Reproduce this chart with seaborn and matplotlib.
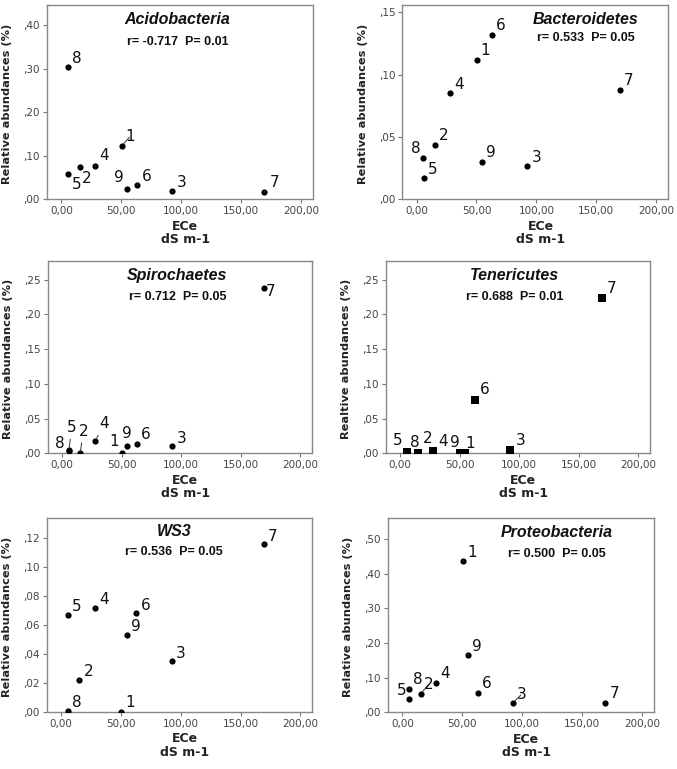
import matplotlib
matplotlib.use('Agg')
import matplotlib.pyplot as plt
from matplotlib.ticker import FuncFormatter, MultipleLocator
import seaborn as sns
import pandas as pd

# sample ids and ECe (dS m-1), shared by all panels
samples = ['1', '2', '3', '4', '5', '6', '7', '8', '9']
ece = [50.5, 15.3, 92.5, 28.0, 5.8, 63.0, 169.5, 5.6, 54.7]

# relative abundances (%) per phylum, in sample order 1..9
acidobacteria = [0.123, 0.075, 0.018, 0.077, 0.059, 0.034, 0.017, 0.303, 0.024]
bacteroidetes = [0.112, 0.044, 0.027, 0.085, 0.017, 0.132, 0.088, 0.033, 0.030]
spirochaetes = [0.001, 0.000, 0.010, 0.018, 0.005, 0.013, 0.238, 0.004, 0.010]
tenericutes = [0.001, 0.001, 0.005, 0.004, 0.002, 0.077, 0.223, 0.002, 0.001]
ws3 = [0.000, 0.022, 0.035, 0.072, 0.067, 0.068, 0.116, 0.0005, 0.053]
proteobacteria = [0.437, 0.054, 0.028, 0.085, 0.038, 0.057, 0.028, 0.068, 0.166]

names = ['Acidobacteria', 'Bacteroidetes', 'Spirochaetes', 'Tenericutes', 'WS3', 'Proteobacteria']
stats_txt = ['r= -0.717  P= 0.01', 'r= 0.533  P= 0.05', 'r= 0.712  P= 0.05',
             'r= 0.688  P= 0.01', 'r= 0.536  P= 0.05', 'r= 0.500  P= 0.05']
values = [acidobacteria, bacteroidetes, spirochaetes, tenericutes, ws3, proteobacteria]
ylabels = ['Relative abundances (%)'] * 3 + ['Realtive abundances (%)'] + ['Relative abundances (%)'] * 2
yticks_step = [0.10, 0.05, 0.05, 0.05, 0.02, 0.10]
ylims = [0.446, 0.156, 0.277, 0.277, 0.134, 0.56]

# layout: axes boxes (left, bottom, width, height) in figure fraction
boxes = [
    (0.0694, 0.7408, 0.3929, 0.2527),
    (0.5942, 0.7408, 0.3925, 0.2527),
    (0.0704, 0.4105, 0.3909, 0.2501),
    (0.5697, 0.4105, 0.3909, 0.2501),
    (0.0690, 0.0745, 0.3923, 0.2519),
    (0.5731, 0.0737, 0.3929, 0.2527),
]
title_pos = [(0.49, 0.923, 0.81), (0.69, 0.926, 0.828), (0.49, 0.927, 0.814),
             (0.487, 0.927, 0.814), (0.48, 0.929, 0.823), (0.635, 0.924, 0.815)]

# label offsets in pixels (dx, dy down positive, leader line)
offsets = [
    {'1': (8, -9, 1), '2': (7, 12, 0), '3': (9, -9, 1), '4': (9, -10, 1), '5': (8, 11, 0),
     '6': (10, -8, 1), '7': (10, -9, 1), '8': (9, -9, 1), '9': (-8, -11, 0)},
    {'1': (8, -9, 0), '2': (9, -9, 0), '3': (9, -8, 0), '4': (9, -9, 0), '5': (9, -9, 0),
     '6': (9, -9, 0), '7': (9, -9, 0), '8': (-8, -10, 0), '9': (9, -9, 0)},
    {'1': (-8, -11, 0), '2': (3, -22, 1), '3': (9, -8, 1), '4': (9, -17, 1), '5': (3, -22, 1),
     '6': (9, -10, 1), '7': (7, 3, 0), '8': (-9, -7, 0), '9': (0, -13, 0)},
    {'1': (10, -9, 0), '2': (9, -14, 0), '3': (10, -9, 0), '4': (10, -9, 0), '5': (-9, -11, 0),
     '6': (10, -10, 0), '7': (10, -10, 0), '8': (8, -9, 0), '9': (-10, -10, 0)},
    {'1': (9, -9, 1), '2': (9, -8, 1), '3': (9, -8, 1), '4': (9, -8, 1), '5': (9, -8, 1),
     '6': (9, -8, 1), '7': (9, -8, 1), '8': (9, -8, 1), '9': (9, -9, 1)},
    {'1': (9, -8, 1), '2': (8, -9, 1), '3': (8, -8, 1), '4': (9, -9, 1), '5': (-8, -9, 0),
     '6': (9, -9, 1), '7': (9, -9, 1), '8': (9, -9, 1), '9': (9, -8, 1)},
]

sns.set_style('white')
plt.rcParams['font.family'] = ['DejaVu Sans']

fig = plt.figure(figsize=(6.77, 7.69), dpi=100)

xfmt = FuncFormatter(lambda v, p: ('%.2f' % v).replace('.', ','))


def yformat(v, p):
    s = ('%.2f' % v).replace('.', ',')
    return s[1:] if s.startswith('0') else s


px = 72.0 / 100  # pixels to points

for i in range(6):
    ax = fig.add_axes(boxes[i])
    df = pd.DataFrame({'ECe': ece, 'val': values[i], 'sample': samples})
    marker = 's' if i == 3 else 'o'
    size = 36 if i == 3 else 20
    sns.scatterplot(data=df, x='ECe', y='val', ax=ax, color='black', marker=marker,
                    s=size, edgecolor='black', linewidth=0, zorder=3)

    for _, row in df.iterrows():
        dx, dy, lead = offsets[i][row['sample']]
        kw = {}
        if lead:
            kw['arrowprops'] = dict(arrowstyle='-', color='#333333', lw=0.7,
                                    shrinkA=0.5, shrinkB=2)
        ax.annotate(row['sample'], (row['ECe'], row['val']),
                    xytext=(dx * px, -dy * px), textcoords='offset points',
                    ha='center', va='center', fontsize=11, color='#111111', **kw)

    ax.set_xlim(-12, 210)
    ax.set_ylim(0, ylims[i])
    ax.xaxis.set_major_locator(MultipleLocator(50))
    ax.yaxis.set_major_locator(MultipleLocator(yticks_step[i]))
    ax.xaxis.set_major_formatter(xfmt)
    ax.yaxis.set_major_formatter(FuncFormatter(yformat))
    ax.tick_params(axis='both', direction='out', length=3, width=0.8, color='#777777',
                   labelsize=7.5, labelcolor='#444444', pad=2, left=True, bottom=True)
    for sp in ax.spines.values():
        sp.set_color('#888888')
        sp.set_linewidth(1.0)

    ax.set_xlabel('ECe\ndS m-1', fontsize=9, fontweight='bold', color='#222222',
                  linespacing=1.05)
    ax.xaxis.set_label_coords(0.52, -0.105)
    ax.set_ylabel(ylabels[i], fontsize=8.2, fontweight='bold', color='#222222')
    ax.yaxis.set_label_coords(-0.13, 0.49)

    tx, ty, ry = title_pos[i]
    ax.text(tx, ty, names[i], transform=ax.transAxes, ha='center', va='center',
            fontsize=11.5, fontweight='bold', fontstyle='italic', color='#111111',
            family=['Liberation Sans'])
    ax.text(tx, ry, stats_txt[i], transform=ax.transAxes, ha='center', va='center',
            fontsize=9, fontweight='bold', color='#111111', family=['Liberation Sans'])

fig.savefig('out.png', dpi=100)
